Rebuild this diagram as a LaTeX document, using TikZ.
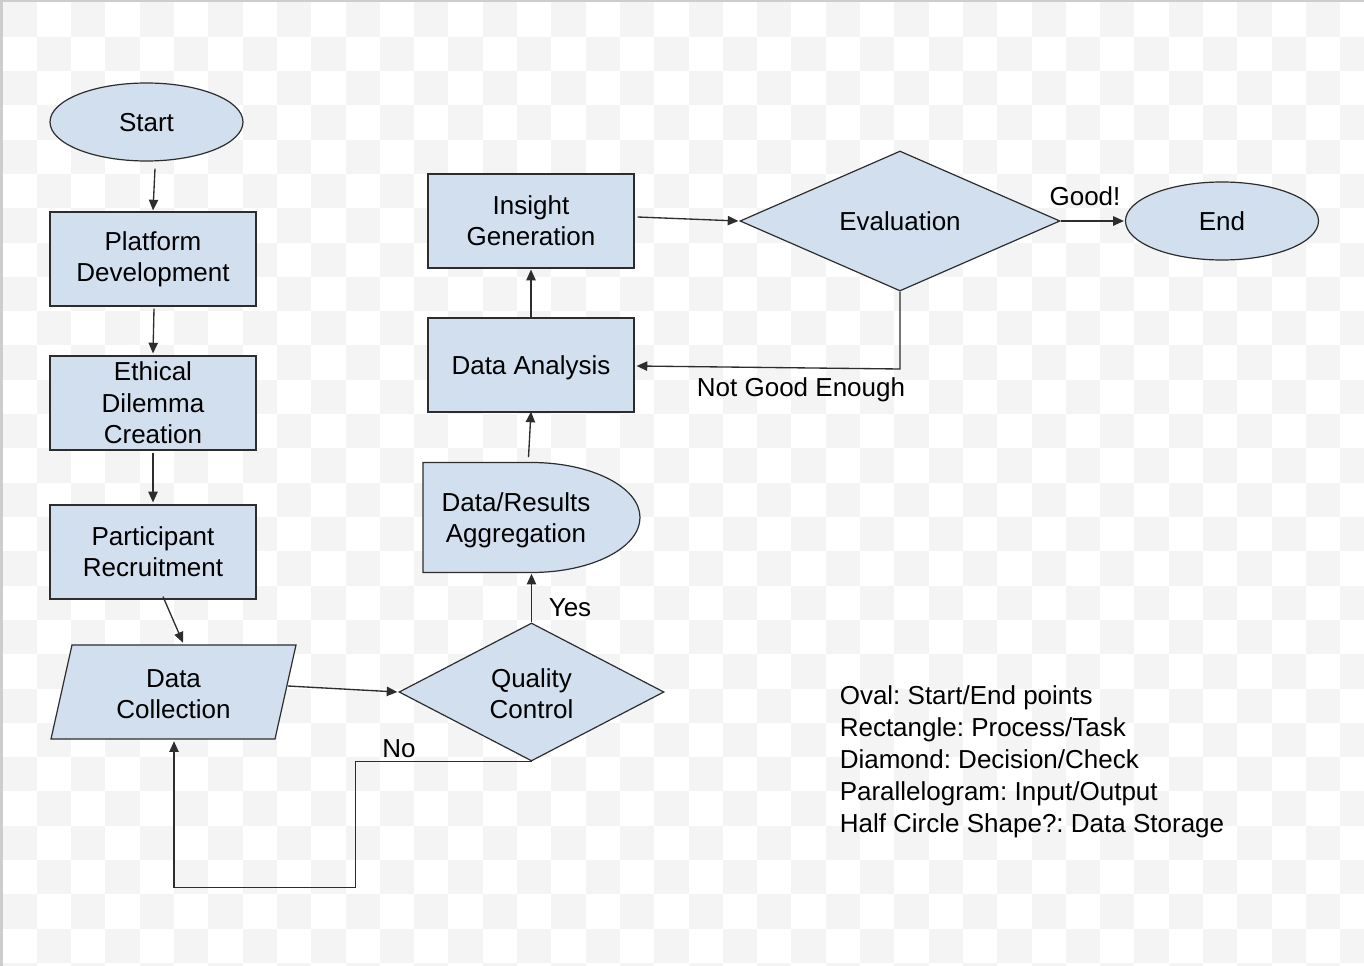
\documentclass[tikz,border=0pt]{standalone}
\usepackage{fontspec}
\setmainfont{Liberation Sans}
\usetikzlibrary{shapes.geometric,arrows.meta,calc}
\definecolor{boxfill}{RGB}{210,223,239}
\definecolor{boxline}{RGB}{45,45,45}
\definecolor{chk}{RGB}{244,244,244}
\definecolor{frame}{RGB}{205,205,205}
\tikzset{
  struts/.style={execute at begin node={\rule{0pt}{0.905em}}, execute at end node={\rule[-0.212em]{0pt}{0pt}}},
  base/.style={font=\fontsize{19.5pt}{23.5pt}\selectfont, text=black, align=center, inner sep=0pt},
  proc/.style={base, rectangle, draw=boxline, fill=boxfill, line width=0.9pt, minimum width=154.5pt, minimum height=70.5pt},
  term/.style={base, struts, ellipse, draw=boxline, fill=boxfill, line width=0.9pt, minimum width=144.75pt, minimum height=58.5pt},
  decide/.style={base, diamond, shape aspect=2, draw=boxline, fill=boxfill, line width=0.9pt},
  ghost/.style={base, rectangle},
  outl/.style={draw=boxline, fill=boxfill, line width=0.9pt},
  arr/.style={draw=boxline, line width=1pt, -{Triangle[length=8pt,width=7pt]}},
  lbl/.style={font=\fontsize{19.5pt}{23.5pt}\selectfont, inner sep=0pt, struts},
}
\begin{document}
\frenchspacing
\begin{tikzpicture}[x=0.75pt,y=-0.75pt]
\useasboundingbox (0,0) rectangle (1364,966);
% background checkerboard
\begin{scope}
\clip (0,0) rectangle (1364,966);
\foreach \i in {0,...,39} {
  \foreach \j in {0,...,28} {
    \pgfmathtruncatemacro\k{mod(\i+\j,2)}
    \ifnum\k=0
      \fill[chk] (2.5+\i*34.3,2.5+\j*34.3) rectangle ++(34.3,34.3);
    \fi
  }
}
\fill[frame] (0,0) rectangle (1364,2.5);
\fill[frame] (0,0) rectangle (2.5,966);
\end{scope}

% shapes
\node[term] (start) at (146.5,122) {Start};
\node[proc] (plat) at (153,259) {Platform\\Development};
\node[proc] (eth) at (153,403) {Ethical\\Dilemma\\Creation};
\node[proc] (part) at (153,552) {Participant\\Recruitment};

\draw[outl] (51,739) -- (72,645) -- (296,645) -- (275,739) -- cycle;
\node[ghost, minimum width=168pt, minimum height=70.5pt] (dc) at (173.5,692) {};
\node[base] (dctxt) at (173.5,694) {Data\\Collection};

\node[decide, minimum width=198.75pt, minimum height=103.5pt] (qc) at (531.5,692) {};
\node[base] (qctxt) at (531.5,694) {Quality\\Control};

\draw[outl] (423,462.5) -- (531.5,462.5)
  .. controls (591.4,462.5) and (640,487.1) .. (640,517.5)
  .. controls (640,547.9) and (591.4,572.5) .. (531.5,572.5)
  -- (423,572.5) -- cycle;
\node[ghost, minimum width=162.75pt, minimum height=82.5pt] (agg) at (531.5,517.5) {};
\node[base] (aggtxt) at (516,520) {Data/Results\\Aggregation};

\node[proc, struts] (da) at (531,365) {Data Analysis};
\node[proc] (ig) at (531,221) {Insight\\Generation};
\node[decide, struts, minimum width=240pt, minimum height=105pt] (eval) at (900,221) {Evaluation};
\node[term] (end) at (1222,221) {End};

% connectors
\draw[arr] ($(start.south)+(8.5,7)$) -- ($(plat.north)+(0,-1)$);
\draw[arr] ($(plat.south)+(1,2)$) -- ($(eth.north)+(0,-2)$);
\draw[arr] ($(eth.south)+(0,2)$) -- ($(part.north)+(0,-2)$);
\draw[arr] ($(part.south)+(10,-3)$) -- ($(dc.north)+(9.5,-2)$);
\draw[arr] ($(dc.east)+(2,-6)$) -- ($(qc.west)+(-1,0)$);
\draw[arr] (qc.north) -- ($(agg.south)+(0,1)$);
\draw[arr] ($(agg.north)+(-3,-5)$) -- ($(da.south)+(0,-1)$);
\draw[arr] (da.north) -- ($(ig.south)+(0,1)$);
\draw[arr] ($(ig.east)+(3,-4)$) -- ($(eval.west)+(-1,0)$);
\draw[arr] (eval.east) -- ($(end.west)+(-1,0)$);
\draw[arr] (eval.south) -- ($(eval.south |- da.east)+(0,4)$) -- ($(da.east)+(2,1)$);
\draw[arr] (qc.south) -- ++(-176,0) -- ++(0,126) -| ($(dc.south)+(0.5,2)$);

% labels
\node[lbl] (yes) at (570,607) {Yes};
\node[lbl] (no) at (399,748) {No};
\node[lbl] (good) at (1085,196) {Good!};
\node[lbl] (ngood) at (801,387) {Not Good Enough};

\node[anchor=west, align=left, inner sep=0pt, font=\fontsize{19.5pt}{24pt}\selectfont] (legend) at (839.5,762)
{Oval: Start/End points\\Rectangle: Process/Task\\Diamond: Decision/Check\\Parallelogram: Input/Output\\Half Circle Shape?: Data Storage};
\end{tikzpicture}
\end{document}
